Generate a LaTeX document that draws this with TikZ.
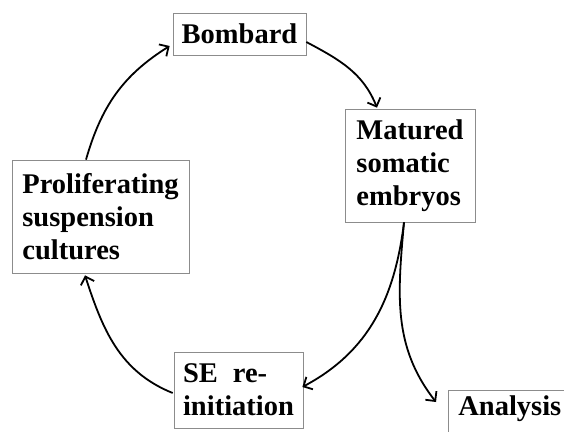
\documentclass[tikz,border=0pt]{standalone}
\usepackage{fontspec}
\setmainfont{Liberation Serif}
\usetikzlibrary{arrows.meta}
\begin{document}
\begin{tikzpicture}[x=1pt,y=1pt,
  boxline/.style={draw=black!45, line width=0.7pt},
  box/.style={boxline, inner sep=0pt, align=left,
    font=\fontsize{28.5}{33}\selectfont\bfseries},
  conn/.style={line width=1.8pt, -{Straight Barb[length=7pt,width=14pt,line width=1.8pt]}}]
\useasboundingbox (0,0) rectangle (564,431);
\fill[white] (0,0) rectangle (564,431);
\node[box, minimum width=133pt, minimum height=42pt] (bomb) at (239.5,397) {Bombard};
\node[box, minimum width=130pt, minimum height=113pt] (mat) at (410,265.5) {Matured\\somatic\\embryos};
\node[box, minimum width=177pt, minimum height=113pt] (prol) at (100.5,214.5) {Proliferating\\suspension\\cultures};
\node[box, minimum width=129pt, minimum height=76pt] (se) at (238.5,41) {SE\hspace{15pt}re-\\initiation};
\node[box, draw=none, anchor=north west, inner xsep=10pt, inner ysep=5pt] (an) at (448,41) {Analysis};
\draw[boxline] ([yshift=-60pt]an.north west) -- (an.north west) -- ([xshift=150pt]an.north west);
\coordinate (anend) at ([xshift=-12pt,yshift=-12pt]an.north west);
\draw[conn] ([xshift=-14.5pt]prol.north) to[out=74,in=212] ([xshift=-3pt,yshift=-12pt]bomb.west);
\draw[conn] ([yshift=-8pt]bomb.east) to[out=-28,in=112] ([xshift=-33pt,yshift=1pt]mat.north);
\draw[conn] ([xshift=-6pt]mat.south) to[out=-97,in=28] ([xshift=-1pt,yshift=3pt]se.east);
\draw[conn] ([xshift=-6pt]mat.south) to[out=-95,in=128] (anend);
\draw[conn] ([xshift=-1pt,yshift=-3pt]se.west) to[out=158,in=-72] ([xshift=-15.5pt,yshift=-2pt]prol.south);
\end{tikzpicture}
\end{document}
